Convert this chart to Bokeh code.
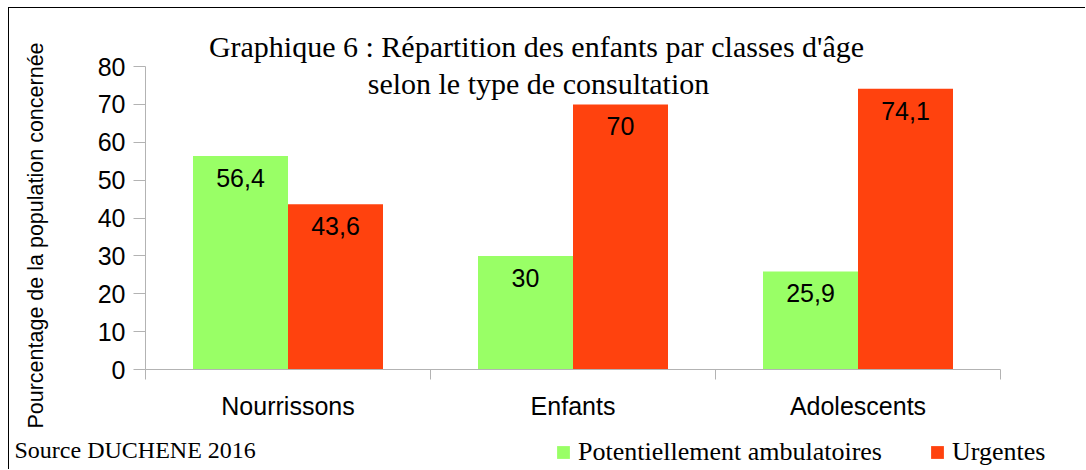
import math
from bokeh.plotting import figure
from bokeh.models import (ColumnDataSource, Range1d, LinearAxis, FixedTicker, Label,
                          Legend, LegendItem)
from bokeh.transform import dodge
from bokeh.core.properties import value
from bokeh.embed import file_html
from bokeh.resources import INLINE

categories = ["Nourrissons", "Enfants", "Adolescents"]
ambulatoires = [56.4, 30, 25.9]
urgentes = [43.6, 70, 74.1]
series_names = ["Potentiellement ambulatoires", "Urgentes"]
y_ticks = [0, 10, 20, 30, 40, 50, 60, 70, 80]

GREEN = "#99FF66"
RED = "#FF420E"
AXIS_GREY = "#b3b3b3"
SANS = "Liberation Sans"
SERIF = "Liberation Serif"

# ---- layout (page pixels) ----
W, H = 1077, 462            # canvas size
LEFT_PX, TOP_PX = 9, 8      # canvas origin on the page (margin + 1px frame line)
AX_X0, AX_X1 = 145, 1000    # plot area left/right on the page
AX_Y0, AX_Y80 = 369, 66     # page y of value 0 and of value 80
n = len(categories)
px_per_x = (AX_X1 - AX_X0) / n
px_per_y = (AX_Y0 - AX_Y80) / y_ticks[-1]


def dx(px):   # page x -> data x
    return (px - AX_X0) / px_per_x


def dy(py):   # page y -> data y
    return (AX_Y0 - py) / px_per_y


def fmt(v):
    return ("%g" % v).replace(".", ",")


centers = [i + 0.5 for i in range(n)]
bounds = list(range(n + 1))
src = ColumnDataSource(dict(
    xc=centers,
    amb=ambulatoires,
    urg=urgentes,
    amb_lbl=[fmt(v) for v in ambulatoires],
    urg_lbl=[fmt(v) for v in urgentes],
))

p = figure(width=W, height=H, output_backend="svg", toolbar_location=None,
           x_range=Range1d(dx(LEFT_PX), dx(LEFT_PX + W)),
           y_range=Range1d(dy(TOP_PX + H), dy(TOP_PX)),
           x_axis_location=None, y_axis_location=None,
           min_border=0, min_border_left=0, min_border_right=0,
           min_border_top=0, min_border_bottom=0)
p.styles = {"margin-left": "8px", "margin-top": "7px",
            "border-top": "1px solid black", "border-left": "1px solid black"}
p.outline_line_color = None
p.xgrid.visible = False
p.ygrid.visible = False
p.background_fill_color = "white"
p.border_fill_color = "white"

# y axis
ya = LinearAxis(fixed_location=0, ticker=FixedTicker(ticks=y_ticks, minor_ticks=[]),
                bounds=(y_ticks[0], y_ticks[-1]))
ya.axis_line_color = AXIS_GREY
ya.major_tick_line_color = AXIS_GREY
ya.minor_tick_line_color = None
ya.major_tick_in = 0
ya.major_tick_out = 12
ya.major_label_standoff = 8
ya.major_label_text_font = SANS
ya.major_label_text_font_size = "25px"
ya.major_label_text_color = "black"
p.add_layout(ya, "left")

# x axis: tick marks at category boundaries (minor ticks), labels at centres
xa = LinearAxis(fixed_location=0, ticker=FixedTicker(ticks=centers, minor_ticks=bounds),
                bounds=(0, n))
xa.major_label_overrides = {c: name for c, name in zip(centers, categories)}
xa.axis_line_color = AXIS_GREY
xa.major_tick_line_color = None
xa.major_tick_in = 0
xa.major_tick_out = 0
xa.minor_tick_line_color = AXIS_GREY
xa.minor_tick_in = 0
xa.minor_tick_out = 10
xa.major_label_standoff = 12
xa.major_label_text_font = SANS
xa.major_label_text_font_size = "25px"
xa.major_label_text_color = "black"
p.add_layout(xa, "below")

w = 1 / 3
r1 = p.vbar(x=dodge("xc", -w / 2), top="amb", width=w, source=src,
            fill_color=GREEN, line_color=None)
r2 = p.vbar(x=dodge("xc", w / 2), top="urg", width=w, source=src,
            fill_color=RED, line_color=None)

for col, lbl, off in (("amb", "amb_lbl", -w / 2), ("urg", "urg_lbl", w / 2)):
    p.text(x=dodge("xc", off), y=col, text=lbl, source=src,
           text_align="center", text_baseline="middle", y_offset=22,
           text_font=value(SANS), text_font_size="25px", text_color="black")

# y axis title
ylab = Label(x=dx(35), y=dy(235), text="Pourcentage de la population concernée",
             angle=math.pi / 2, text_align="center", text_baseline="middle",
             text_font=SANS, text_font_size="21.5px", text_color="black")
# chart title (two lines)
t1 = Label(x=dx(536), y=dy(46), text="Graphique 6 : Répartition des enfants par classes d'âge",
           text_align="center", text_baseline="alphabetic", text_font=SERIF,
           text_font_size="30px", text_color="black")
t2 = Label(x=dx(538), y=dy(83), text="selon le type de consultation",
           text_align="center", text_baseline="alphabetic", text_font=SERIF,
           text_font_size="30px", text_color="black")
src_lbl = Label(x=dx(14), y=dy(449), text="Source DUCHENE 2016", text_align="left",
                text_baseline="alphabetic", text_font=SERIF, text_font_size="24px",
                text_color="black")
for a in (ylab, t1, t2, src_lbl):
    p.add_layout(a)

legend = Legend(items=[LegendItem(label=series_names[0], renderers=[r1]),
                       LegendItem(label=series_names[1], renderers=[r2])],
                orientation="horizontal", location=(555 - LEFT_PX, 3))
legend.label_text_font = SERIF
legend.label_text_font_size = "26px"
legend.label_text_color = "black"
legend.glyph_width = 16
legend.glyph_height = 16
legend.label_standoff = 7
legend.spacing = 47
legend.padding = 0
legend.margin = 0
legend.border_line_color = None
legend.background_fill_alpha = 0
p.add_layout(legend)

open("out.html", "w").write(file_html(p, INLINE))
